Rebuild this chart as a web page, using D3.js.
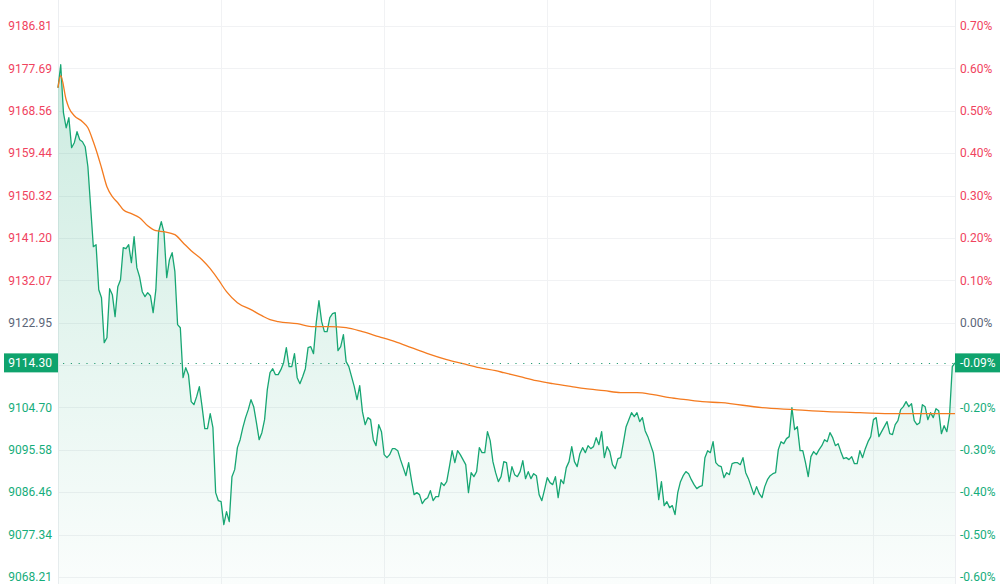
<!DOCTYPE html>
<html>
<head>
<meta charset="utf-8">
<script src="https://cdn.jsdelivr.net/npm/d3@7"></script>
<style>
  html, body { margin: 0; padding: 0; background: #fff; }
  svg { display: block; font-family: Roboto, "Noto Sans", sans-serif; }
</style>
</head>
<body>
<svg id="chart"></svg>
<script>
// previous close, used as the 0.00% reference
var prevClose = 9122.95;

// left axis tick labels (price)
var priceTicks = [9186.81, 9177.69, 9168.56, 9159.44, 9150.32, 9141.20, 9132.07,
    9122.95, 9113.83, 9104.70, 9095.58, 9086.46, 9077.34, 9068.21];

// hourly grid positions, in minutes from the open
var gridMinutes = [60, 120, 180, 240, 300];

// minute prices
var prices = [
    9173.52, 9178.47, 9168.14, 9164.91, 9167.07, 9160.61, 9161.69, 9164.05, 9162.33, 9161.90,
    9160.83, 9156.52, 9147.91, 9139.31, 9139.74, 9130.05, 9128.33, 9118.65, 9119.72, 9130.27,
    9128.98, 9124.24, 9130.70, 9132.20, 9139.09, 9138.87, 9139.74, 9135.86, 9141.46, 9134.79,
    9132.85, 9129.62, 9128.55, 9129.41, 9128.76, 9125.10, 9130.05, 9142.53, 9144.69, 9142.32,
    9132.63, 9136.51, 9138.01, 9133.93, 9122.52, 9121.87, 9111.11, 9113.27, 9111.76, 9105.95,
    9105.30, 9107.03, 9109.18, 9104.87, 9100.14, 9100.14, 9103.37, 9100.35, 9086.37, 9084.64,
    9084.43, 9079.48, 9082.28, 9080.13, 9089.81, 9091.32, 9096.05, 9097.77, 9100.35, 9102.51,
    9104.23, 9106.38, 9104.87, 9101.43, 9097.77, 9099.28, 9102.08, 9108.53, 9112.19, 9113.05,
    9111.76, 9111.76, 9112.84,
    9114.34, 9117.57, 9113.48, 9113.48, 9116.28, 9111.11, 9109.82, 9111.33, 9113.05, 9117.57,
    9117.79, 9116.28, 9122.95, 9127.68, 9123.17, 9121.01, 9121.01, 9124.03, 9124.89, 9125.10,
    9116.92, 9117.79, 9120.37, 9114.56, 9113.48, 9111.33, 9109.18, 9106.38, 9109.39, 9103.80,
    9101.00, 9102.51, 9102.08, 9097.77, 9096.48, 9101.00, 9099.49, 9094.54, 9093.90, 9094.54,
    9095.83, 9095.83, 9095.40, 9093.47, 9091.75, 9090.02, 9092.82, 9089.16, 9085.94, 9086.37,
    9085.94, 9084.00, 9084.86, 9085.29, 9086.80, 9084.64, 9085.51, 9085.51, 9088.52, 9087.87,
    9088.73, 9091.96, 9095.40, 9092.82, 9095.40, 9094.54, 9093.47, 9092.39, 9086.37, 9090.67,
    9089.81, 9090.89, 9096.05, 9094.97, 9094.97, 9099.49, 9097.56, 9093.04, 9090.67, 9088.73,
    9089.81, 9093.04,
    9092.82, 9088.73, 9091.96, 9090.24, 9089.81, 9090.89, 9093.25, 9089.38, 9090.89, 9089.38,
    9090.45, 9090.02, 9085.94, 9084.64, 9087.01, 9089.59, 9088.52, 9088.09, 9089.81, 9085.29,
    9089.16, 9088.30, 9091.75, 9093.04, 9096.27, 9093.04, 9091.96, 9094.76, 9096.05, 9094.97,
    9096.48, 9095.83, 9096.27, 9098.20, 9096.70, 9099.49, 9093.90, 9096.27, 9095.19, 9092.39,
    9091.53, 9093.68, 9093.90, 9097.13, 9100.57, 9102.08, 9103.58, 9102.72, 9103.58, 9101.65,
    9102.51, 9099.71, 9098.42, 9096.70, 9094.97, 9090.67, 9084.86, 9088.73, 9083.57, 9084.43,
    9083.14, 9083.57, 9081.63, 9086.37, 9088.73, 9090.02, 9090.89, 9090.45, 9089.16, 9088.09,
    9087.23, 9087.66, 9087.87, 9093.90, 9095.40, 9094.97, 9097.34, 9092.82, 9092.18, 9091.96,
    9089.59, 9090.67,
    9090.24, 9092.61, 9092.82, 9092.82, 9092.39, 9093.90, 9090.67, 9089.38, 9087.66, 9085.94,
    9087.66, 9086.15, 9085.29, 9087.66, 9089.16, 9090.02, 9090.45, 9090.67, 9095.62, 9097.34,
    9096.91, 9097.99, 9098.42, 9104.66, 9099.92, 9100.57, 9095.40, 9095.40, 9092.82, 9089.81,
    9094.11, 9095.19, 9094.54, 9095.62, 9096.48, 9097.77, 9097.34, 9099.28, 9098.20, 9096.48,
    9096.91, 9095.19, 9093.68, 9093.90, 9093.47, 9094.11, 9092.61, 9092.61, 9095.40, 9093.90,
    9095.83, 9097.34, 9098.42, 9102.08, 9102.51, 9098.42, 9099.49, 9100.57, 9101.65, 9099.06,
    9098.85, 9101.00, 9101.86, 9104.23, 9104.87, 9105.95, 9104.87, 9105.52, 9101.86, 9101.00,
    9101.43, 9105.30, 9104.87, 9102.08, 9103.58, 9102.51, 9104.44, 9104.01, 9099.06, 9100.78,
    9099.49, 9103.15, 9113.48, 9114.30
];

// average price line (minute, value)
var avgMinutes = [0, 1, 3, 4, 6, 9, 11, 13, 14, 16, 18, 20, 22, 24, 27, 30, 33, 36, 39, 43,
    46, 49, 53, 56, 59, 62, 66, 71, 75, 78, 81, 88, 94, 100, 106, 112, 118, 124, 130, 136,
    143, 149, 155, 161, 164, 170, 176, 182, 189, 194, 201, 207, 213, 219, 225, 231, 237, 244, 259, 271,
    283, 295, 308, 320, 330];
var avgValues = [9173.52, 9176.10, 9170.94, 9169.22, 9167.50, 9166.21, 9164.91, 9161.90, 9160.18, 9156.31,
    9152.22, 9150.07, 9148.77, 9147.27, 9146.41, 9145.55, 9143.82, 9142.75, 9142.53, 9141.89,
    9140.17, 9138.44, 9136.51, 9134.57, 9132.20, 9129.62, 9127.25, 9125.75, 9124.46, 9123.60,
    9123.17, 9122.73, 9122.09, 9122.09, 9121.87, 9121.01, 9119.94, 9118.86, 9117.57, 9116.28,
    9114.99, 9114.13, 9113.27, 9112.62, 9112.19, 9111.33, 9110.47, 9109.82, 9109.18, 9108.75,
    9108.32, 9107.89, 9107.89, 9107.46, 9106.81, 9106.38, 9105.95, 9105.73, 9104.66, 9104.23,
    9103.80, 9103.58, 9103.37, 9103.37, 9103.37];

var width = 1008, height = 584;
var left = 58, right = 955;

var upColor = "#f0435e", downColor = "#16ad7b", flatColor = "#5b6578";
var lineColor = "#17a673", avgColor = "#f47b20", gridColor = "#f1f2f4";

function tickColor(v) {
    var p = +v.toFixed(2);
    if (p > prevClose) return upColor;
    if (p < prevClose) return downColor;
    return flatColor;
}
function pctText(v) {
    var p = (v - prevClose) / prevClose * 100;
    var s = p.toFixed(2);
    if (s === "-0.00") s = "0.00";
    return s + "%";
}

var x = d3.scaleLinear().domain([0, prices.length - 1]).range([left, right]);
var y = d3.scaleLinear().domain([9068.21, 9186.81]).range([577, 26]);

var svg = d3.select("#chart")
    .attr("width", width)
    .attr("height", height);

var defs = svg.append("defs");
var grad = defs.append("linearGradient")
    .attr("id", "areaGrad")
    .attr("gradientUnits", "userSpaceOnUse")
    .attr("x1", 0).attr("x2", 0)
    .attr("y1", y(d3.max(prices))).attr("y2", height);
grad.append("stop").attr("offset", "0%").attr("stop-color", lineColor).attr("stop-opacity", 0.22);
grad.append("stop").attr("offset", "100%").attr("stop-color", lineColor).attr("stop-opacity", 0.02);

// grid
svg.append("g")
    .selectAll("line")
    .data(priceTicks)
    .enter().append("line")
    .attr("x1", left).attr("x2", right)
    .attr("y1", function(d) { return Math.round(y(d)) + 0.5; })
    .attr("y2", function(d) { return Math.round(y(d)) + 0.5; })
    .attr("stroke", gridColor)
    .attr("stroke-width", 1);

svg.append("g")
    .selectAll("line")
    .data(gridMinutes)
    .enter().append("line")
    .attr("x1", function(d) { return Math.round(x(d)) + 0.5; })
    .attr("x2", function(d) { return Math.round(x(d)) + 0.5; })
    .attr("y1", 0).attr("y2", height)
    .attr("stroke", gridColor);

[left, right].forEach(function(px) {
    svg.append("line")
        .attr("x1", px + 0.5).attr("x2", px + 0.5)
        .attr("y1", 0).attr("y2", height)
        .attr("stroke", "#eceef1");
});

// area + price line
var area = d3.area()
    .x(function(d, i) { return x(i); })
    .y0(height)
    .y1(function(d) { return y(d); });

svg.append("path")
    .attr("d", area(prices))
    .attr("fill", "url(#areaGrad)");

var line = d3.line()
    .x(function(d, i) { return x(i); })
    .y(function(d) { return y(d); });

svg.append("path")
    .attr("d", line(prices))
    .attr("fill", "none")
    .attr("stroke", lineColor)
    .attr("stroke-width", 1.3)
    .attr("stroke-linejoin", "round");

// average line
var avgLine = d3.line()
    .x(function(d) { return x(d[0]); })
    .y(function(d) { return y(d[1]); })
    .curve(d3.curveMonotoneX);

svg.append("path")
    .attr("d", avgLine(d3.zip(avgMinutes, avgValues)))
    .attr("fill", "none")
    .attr("stroke", avgColor)
    .attr("stroke-width", 1.3);

// current price
var last = prices[prices.length - 1];
var lastY = y(last);

svg.append("line")
    .attr("x1", left + 5).attr("x2", right)
    .attr("y1", Math.round(lastY) + 0.5).attr("y2", Math.round(lastY) + 0.5)
    .attr("stroke", "#2a9d74")
    .attr("stroke-width", 1.2)
    .attr("stroke-dasharray", "1.2,6.6");

// axis labels
var labelTicks = priceTicks.filter(function(d) { return Math.abs(y(d) - lastY) > 12; });

svg.append("g")
    .selectAll("text")
    .data(labelTicks)
    .enter().append("text")
    .attr("x", 52)
    .attr("y", function(d) { return y(d); })
    .attr("dy", "0.35em")
    .attr("text-anchor", "end")
    .style("font-size", "12px")
    .attr("fill", tickColor)
    .text(function(d) { return d.toFixed(2); });

svg.append("g")
    .selectAll("text")
    .data(labelTicks)
    .enter().append("text")
    .attr("x", 960)
    .attr("y", function(d) { return y(d); })
    .attr("dy", "0.35em")
    .attr("text-anchor", "start")
    .style("font-size", "12px")
    .attr("fill", tickColor)
    .text(pctText);

// current price tags
var boxColor = "#0fa36d";
svg.append("rect")
    .attr("x", 4).attr("y", lastY - 9.5)
    .attr("width", left - 4).attr("height", 19)
    .attr("fill", boxColor);
svg.append("text")
    .attr("x", 52).attr("y", lastY)
    .attr("dy", "0.35em")
    .attr("text-anchor", "end")
    .style("font-size", "12px")
    .attr("fill", "#fff")
    .text(last.toFixed(2));

svg.append("rect")
    .attr("x", right).attr("y", lastY - 9.5)
    .attr("width", 1000 - right).attr("height", 19)
    .attr("fill", boxColor);
svg.append("text")
    .attr("x", 960).attr("y", lastY)
    .attr("dy", "0.35em")
    .attr("text-anchor", "start")
    .style("font-size", "12px")
    .attr("fill", "#fff")
    .text(pctText(last));
</script>
</body>
</html>
